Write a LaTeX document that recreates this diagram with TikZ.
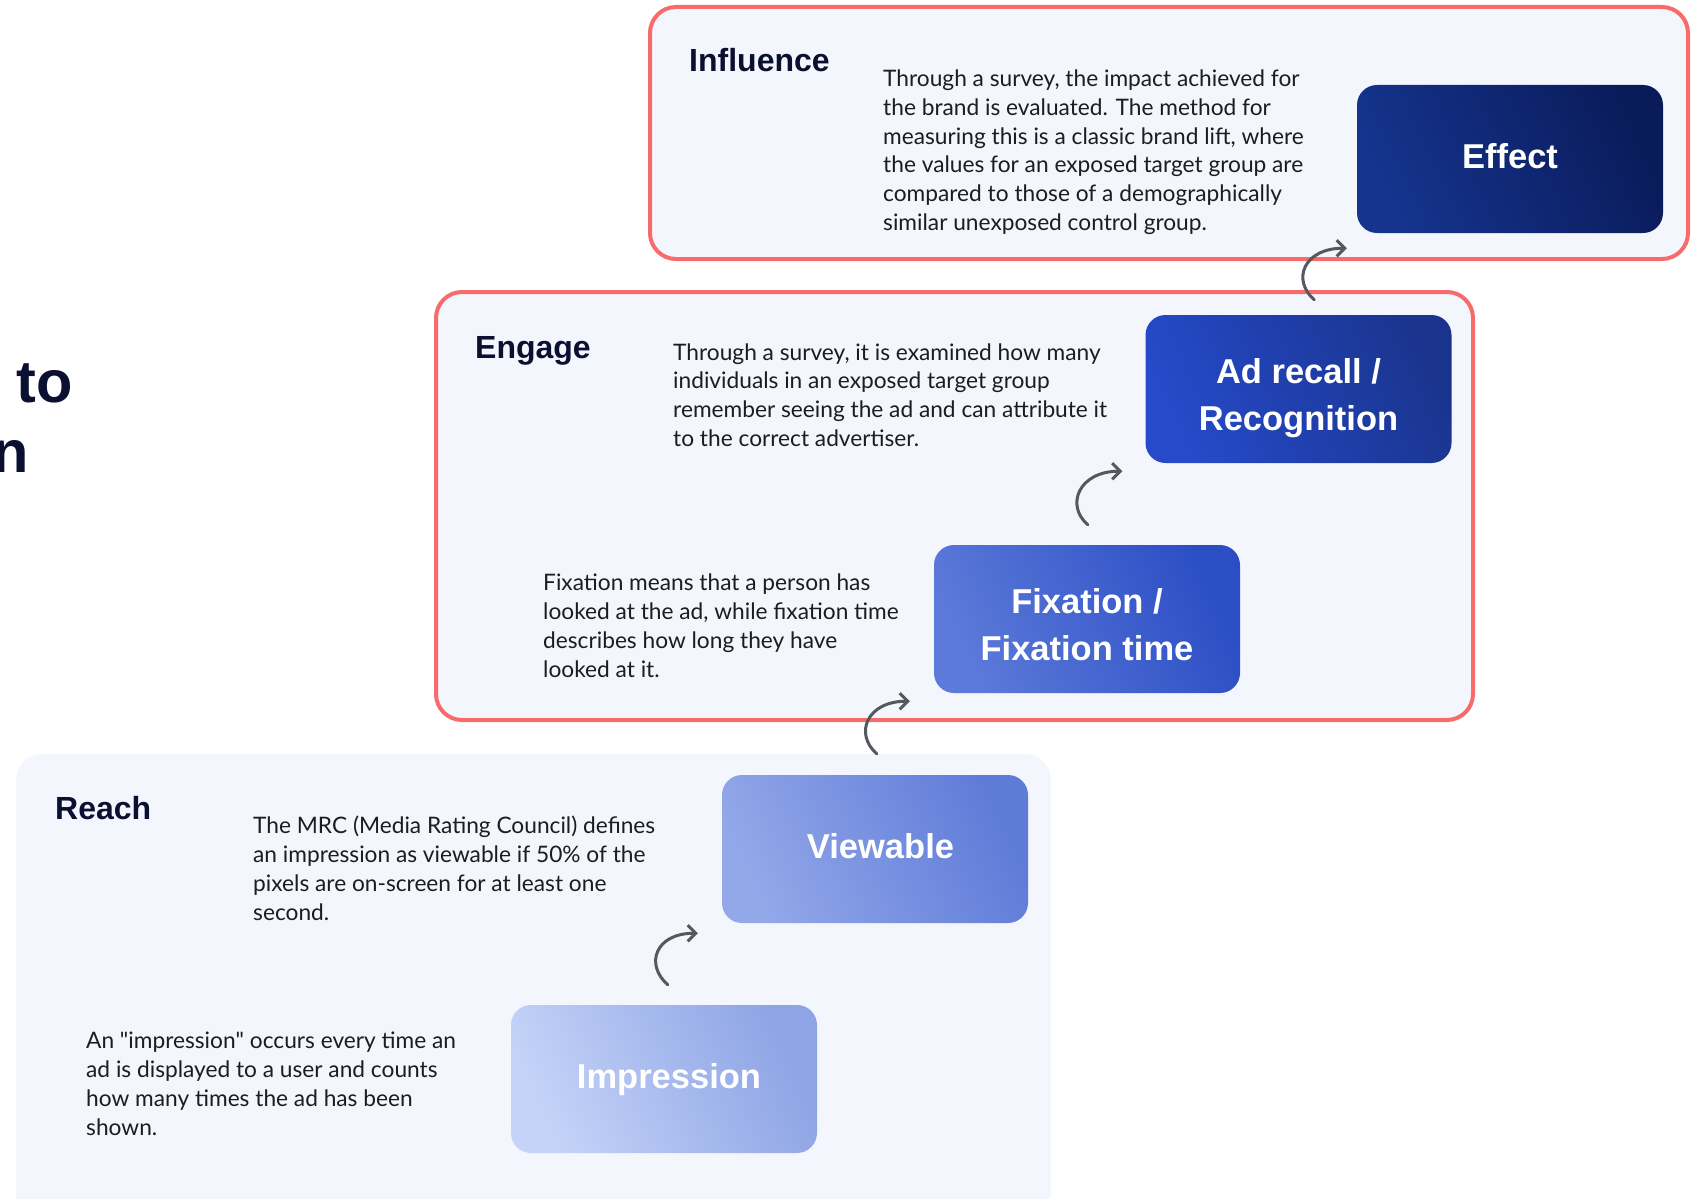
\documentclass[tikz,border=0pt]{standalone}
\usepackage{fontspec}
\setmainfont{Lato}
\newfontfamily\headfont{Liberation Sans}
\usetikzlibrary{arrows.meta,calc}

\definecolor{panelbg}{HTML}{F4F6FE}
\definecolor{panelred}{HTML}{F86B6B}
\definecolor{inkdark}{HTML}{0B1030}
\definecolor{bodyink}{HTML}{1C1C22}
\definecolor{flowgray}{HTML}{55585F}
\definecolor{effhi}{HTML}{0A1B5A}
\definecolor{efflo}{HTML}{15348E}
\definecolor{adrhi}{HTML}{1A348E}
\definecolor{adrlo}{HTML}{264ACA}
\definecolor{fixhi}{HTML}{2C4EC5}
\definecolor{fixlo}{HTML}{5C7AD9}
\definecolor{viewhi}{HTML}{5E7BD8}
\definecolor{viewlo}{HTML}{93A8E9}
\definecolor{imphi}{HTML}{8DA4E5}
\definecolor{implo}{HTML}{C5D3F8}

\tikzset{
  panel/.style={fill=panelbg, rounded corners=26pt},
  redpanel/.style={panel, draw=panelred, line width=4pt},
  stagebox/.style 2 args={top color=#1, bottom color=#2, shading angle=-65,
    rounded corners=20pt, minimum width=306pt, minimum height=148pt,
    inner sep=0pt, text=white, align=center, text height=19pt, text depth=0pt,
    font=\headfont\bfseries\fontsize{34.5}{47}\selectfont},
  twoline/.style={text height=83pt},
  title/.style={anchor=base west, inner sep=0pt, text=inkdark,
    font=\headfont\bfseries\fontsize{32}{38}\selectfont},
  desc/.style={anchor=base west, inner sep=0pt, align=left, text=bodyink,
    font=\fontsize{22.7}{28.8}\selectfont},
  flow/.style={draw=flowgray, line width=3pt, line cap=round,
    -{Straight Barb[length=8pt,width=16pt]}}
}

\begin{document}
\begin{tikzpicture}[x=1pt, y=-1pt]

  \useasboundingbox (0,0) rectangle (1701,1199);

  % cut-off heading on the left
  \node[anchor=base west, inner sep=0pt, text=inkdark,
        font=\headfont\bfseries\fontsize{59.5}{70}\selectfont] (hto) at (16,402) {to};
  \node[anchor=base east, inner sep=0pt, text=inkdark,
        font=\headfont\bfseries\fontsize{59.5}{70}\selectfont] (hn) at (29,472) {n};

  % panels
  \fill[panel] (16,754) rectangle (1051,1230);
  \draw[redpanel] (436,292) rectangle (1473,720);
  \draw[redpanel] (650,7) rectangle (1688,259);

  % stage titles
  \node[title] (tinfl) at (689,72) {Influence};
  \node[title] (teng) at (475,358) {Engage};
  \node[title] (treach) at (55,819) {Reach};

  % stage boxes
  \node[stagebox={effhi}{efflo}] (eff) at (1510,159) {Effect};
  \node[stagebox={adrhi}{adrlo}, twoline] (adr) at (1298.5,389) {Ad recall /\\Recognition};
  \node[stagebox={fixhi}{fixlo}, twoline] (fix) at (1087,619) {Fixation /\\Fixation time};
  \node[stagebox={viewhi}{viewlo}] (view) at (875,849) {\hspace*{11pt}Viewable};
  \node[stagebox={imphi}{implo}] (imp) at (664,1079) {\hspace*{10pt}Impression};

  % descriptions (anchored at the baseline of their last line)
  \node[desc] (dinfl) at (883,230.5) {Through a survey, the impact achieved for\\
    the brand is evaluated. The method for\\
    measuring this is a classic brand lift, where\\
    the values for an exposed target group are\\
    compared to those of a demographically\\
    similar unexposed control group.};
  \node[desc] (deng) at (673,446.5) {Through a survey, it is examined how many\\
    individuals in an exposed target group\\
    remember seeing the ad and can attribute it\\
    to the correct advertiser.};
  \node[desc] (dfix) at (543,677) {Fixation means that a person has\\
    looked at the ad, while fixation time\\
    describes how long they have\\
    looked at it.};
  \node[desc] (dview) at (253,920) {The MRC (Media Rating Council) defines\\
    an impression as viewable if 50\% of the\\
    pixels are on-screen for at least one\\
    second.};
  \node[desc] (dimp) at (86,1135) {An \textquotedbl impression\textquotedbl{} occurs every time an\\
    ad is displayed to a user and counts\\
    how many times the ad has been\\
    shown.};

  % curved arrows between the stages
  \foreach \lo/\up/\sx/\sy/\ex/\ey in {imp/view/157/-20/-24/10, view/fix/155/-21/-24/8,
      fix/adr/154/-20/-23/8, adr/eff/169/-15/-10/15}
    \draw[flow] ($(\lo.north west)+(\sx,\sy)$) .. controls +(-23,-20) and +(-43,0)
      .. ($(\up.south west)+(\ex,\ey)$);

\end{tikzpicture}
\end{document}
